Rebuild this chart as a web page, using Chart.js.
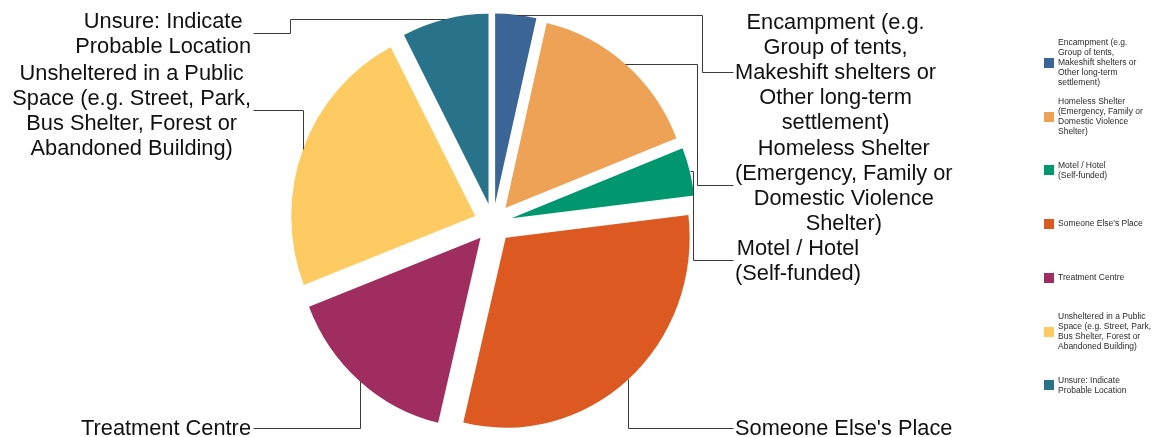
<!DOCTYPE html>
<html>
<head>
<meta charset="utf-8">
<script src="https://cdn.jsdelivr.net/npm/chart.js@4.4.1/dist/chart.umd.min.js"></script>
<style>
  html, body { margin: 0; padding: 0; background: #ffffff; }
  canvas { display: block; }
</style>
</head>
<body>
<canvas id="chart" width="1156" height="437"></canvas>
<script>
// Where people stayed: share of responses by location type (%)
const categories = [
  ["Encampment (e.g.", "Group of tents,", "Makeshift shelters or", "Other long-term", "settlement)"],
  ["Homeless Shelter", "(Emergency, Family or", "Domestic Violence", "Shelter)"],
  ["Motel / Hotel", "(Self-funded)"],
  ["Someone Else's Place"],
  ["Treatment Centre"],
  ["Unsheltered in a Public", "Space (e.g. Street, Park,", "Bus Shelter, Forest or", "Abandoned Building)"],
  ["Unsure: Indicate", "Probable Location"]
];
const shares = [3.6, 15.4, 4.1, 30.6, 15.4, 23.3, 7.6];
const sliceColors = ["#3B6596", "#EEA256", "#00966E", "#DC5A21", "#A02D60", "#FDCB62", "#287389"];

// Callout placement for each slice label (side, label row y, elbow x or null = straight down/up from the slice)
const callouts = [
  { side: "right", y: 72,  elbowX: 702 },
  { side: "right", y: 185, elbowX: 697 },
  { side: "right", y: 260, elbowX: 693 },
  { side: "right", y: 428, elbowX: null },
  { side: "left",  y: 428, elbowX: null },
  { side: "left",  y: 110, elbowX: null },
  { side: "left",  y: 33,  elbowX: 290 }
];
const calloutEndRight = 733;
const calloutEndLeft = 253;
const labelFont = '21.8px "Liberation Sans", Arial, sans-serif';
const labelLineHeight = 25;

const legendFont = '8.5px "Liberation Sans", Arial, sans-serif';
const legendLineHeight = 10;
const legendFirstY = 63;
const legendPitch = 53.7;
const legendBoxX = 1044;
const legendTextX = 1058;

const explodeDistance = 19;   // each slice pushed out along its middle angle
const verticalStretch = 1.033;

const explodePlugin = {
  id: 'explodeSlices',
  afterDatasetUpdate(chart, args) {
    const meta = chart.getDatasetMeta(args.index);
    meta.data.forEach(arc => {
      const mid = (arc.startAngle + arc.endAngle) / 2;
      arc.x += Math.cos(mid) * explodeDistance;
      arc.y += Math.sin(mid) * explodeDistance;
    });
  }
};

const stretchPlugin = {
  id: 'stretchPie',
  beforeDatasetsDraw(chart) {
    const { ctx, chartArea } = chart;
    const cx = (chartArea.left + chartArea.right) / 2;
    const cy = (chartArea.top + chartArea.bottom) / 2;
    ctx.save();
    ctx.translate(cx, cy);
    ctx.scale(1, verticalStretch);
    ctx.translate(-cx, -cy);
  },
  afterDatasetsDraw(chart) {
    chart.ctx.restore();
  }
};

const calloutPlugin = {
  id: 'sliceCallouts',
  afterDraw(chart) {
    const { ctx, chartArea } = chart;
    const cy = (chartArea.top + chartArea.bottom) / 2;
    const meta = chart.getDatasetMeta(0);
    ctx.save();
    ctx.font = labelFont;
    meta.data.forEach((arc, i) => {
      const c = callouts[i];
      const mid = (arc.startAngle + arc.endAngle) / 2;
      const px = arc.x + arc.outerRadius * Math.cos(mid);
      const py = cy + (arc.y + arc.outerRadius * Math.sin(mid) - cy) * verticalStretch;
      const ex = c.elbowX === null ? px : c.elbowX;
      const endX = c.side === 'right' ? calloutEndRight : calloutEndLeft;

      ctx.strokeStyle = '#3a3a3a';
      ctx.lineWidth = 1;
      ctx.beginPath();
      ctx.moveTo(Math.round(px) + 0.5, Math.round(py) + 0.5);
      ctx.lineTo(Math.round(ex) + 0.5, Math.round(py) + 0.5);
      ctx.lineTo(Math.round(ex) + 0.5, Math.round(c.y) + 0.5);
      ctx.lineTo(endX + 0.5, Math.round(c.y) + 0.5);
      ctx.stroke();

      const lines = chart.data.labels[i];
      const maxW = Math.max(...lines.map(t => ctx.measureText(t).width));
      const centerX = c.side === 'right' ? endX + 2 + maxW / 2 : endX - 2 - maxW / 2;
      const top = c.y - (lines.length * labelLineHeight) / 2;
      ctx.fillStyle = '#111111';
      ctx.textAlign = 'center';
      ctx.textBaseline = 'middle';
      lines.forEach((t, k) => {
        ctx.fillText(t, centerX, top + labelLineHeight * (k + 0.5) + 1);
      });
    });
    ctx.restore();
  }
};

const sideLegendPlugin = {
  id: 'sideLegend',
  afterDraw(chart) {
    const { ctx } = chart;
    const ds = chart.data.datasets[0];
    ctx.save();
    ctx.font = legendFont;
    ctx.textAlign = 'left';
    ctx.textBaseline = 'middle';
    chart.data.labels.forEach((lines, i) => {
      const yc = legendFirstY + legendPitch * i;
      ctx.fillStyle = ds.backgroundColor[i];
      ctx.fillRect(legendBoxX, Math.round(yc - 5), 10, 10);
      ctx.fillStyle = '#2a2a2a';
      const top = yc - (lines.length * legendLineHeight) / 2;
      lines.forEach((t, k) => {
        ctx.fillText(t, legendTextX, top + legendLineHeight * (k + 0.5));
      });
    });
    ctx.restore();
  }
};

new Chart(document.getElementById('chart'), {
  type: 'pie',
  data: {
    labels: categories,
    datasets: [{
      data: shares,
      backgroundColor: sliceColors,
      borderWidth: 0,
      radius: 184
    }]
  },
  options: {
    responsive: false,
    animation: false,
    events: [],
    layout: { padding: { left: 0, right: 170, top: 9, bottom: 0 } },
    plugins: {
      legend: { display: false },
      tooltip: { enabled: false }
    }
  },
  plugins: [explodePlugin, stretchPlugin, calloutPlugin, sideLegendPlugin]
});
</script>
</body>
</html>
